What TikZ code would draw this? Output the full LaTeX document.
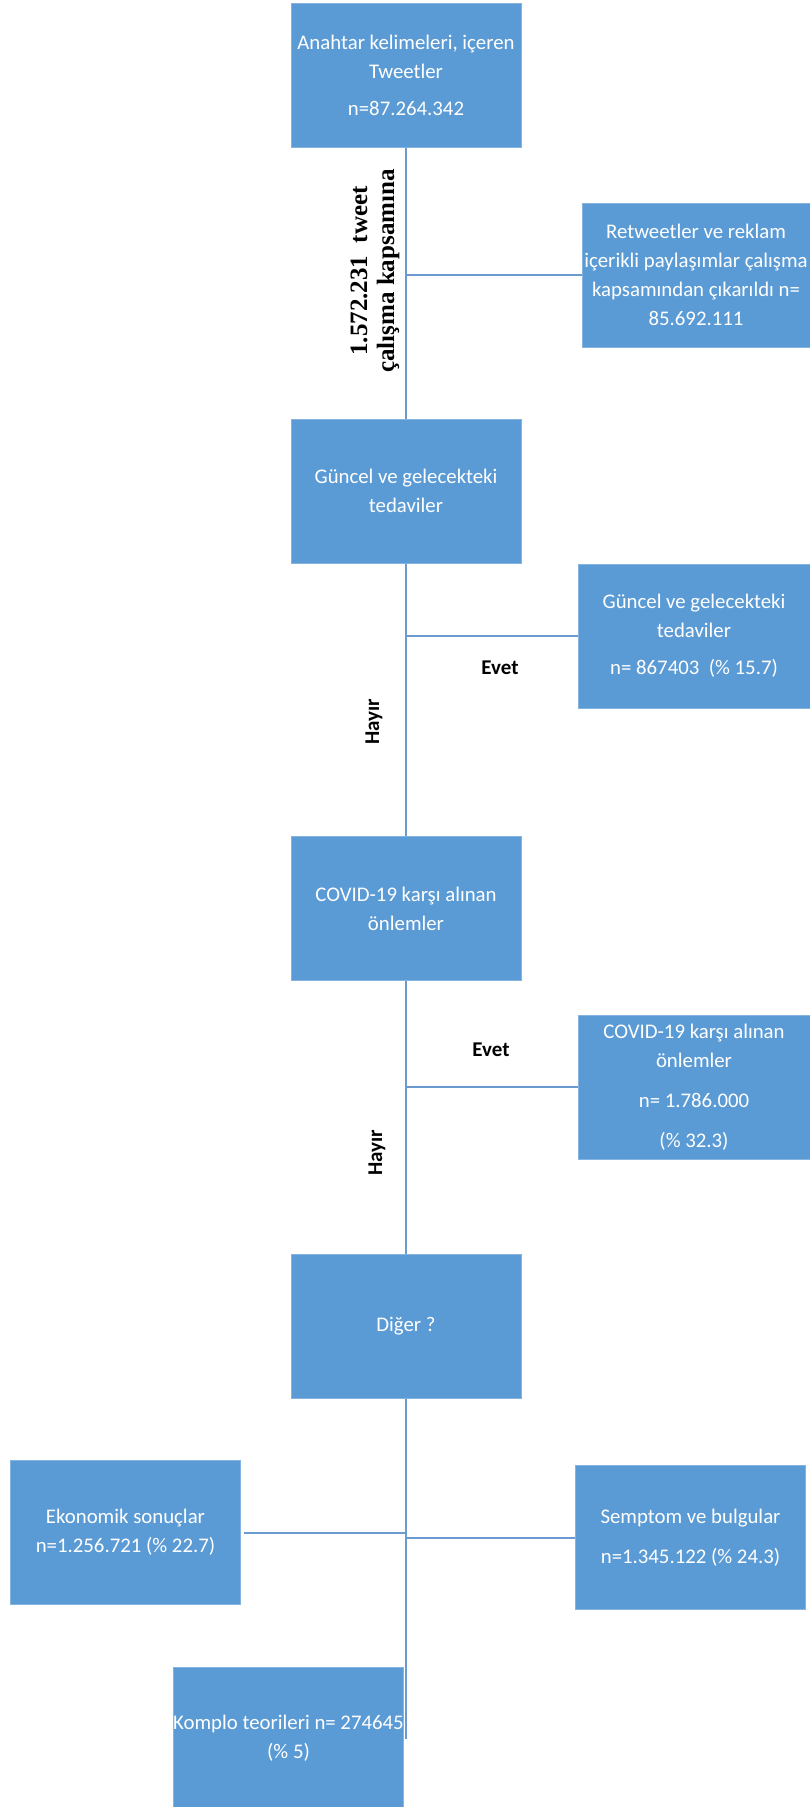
\documentclass[tikz,border=0pt]{standalone}
\usepackage{fontspec}
\setmainfont{Carlito}
\newfontfamily\timesfont{Liberation Serif}
\usepackage{tikz}

\definecolor{boxblue}{HTML}{5B9BD5}
\definecolor{lineblue}{HTML}{6A9BD0}

\begin{document}
\begin{tikzpicture}[x=1pt,y=-1pt,
    box/.style={fill=boxblue,draw=boxblue!75!white,line width=1pt,
      minimum width=230pt,minimum height=144pt,inner sep=0pt,
      text=white,align=center,font=\fontsize{20.8}{29}\selectfont},
    link/.style={lineblue,line width=2pt},
    yesno/.style={font=\fontsize{21}{25}\selectfont\bfseries}]
\useasboundingbox (0,0) rectangle (810,1807);
\node[box] (tweets) at (406,75.5) {Anahtar kelimeleri, içeren\\Tweetler\\[8pt]n=87.264.342};
\node[box,minimum width=228pt] (retweet) at (696,275)
    {Retweetler ve reklam\\içerikli paylaşımlar çalışma\\kapsamından çıkarıldı n=\\85.692.111};
\node[box] (tedavi) at (406,491) {Güncel ve gelecekteki\\tedaviler};
\node[box,minimum width=232pt] (tedaviN) at (694,636)
    {Güncel ve gelecekteki\\tedaviler\\[8pt]n= 867403~~(\% 15.7)};
\node[box] (onlem) at (406,908.5) {COVID-19 karşı alınan\\önlemler};
\node[box,minimum width=232pt] (onlemN) at (694,1087)
    {COVID-19 karşı alınan\\önlemler\\[11pt]n= 1.786.000\\[11pt](\% 32.3)};
\node[box] (diger) at (406,1326) {Diğer ?};
\node[box] (ekonomi) at (125.5,1532.5) {Ekonomik sonuçlar\\n=1.256.721 (\% 22.7)};
\node[box] (semptom) at (690.5,1537.5) {Semptom ve bulgular\\[11pt]n=1.345.122 (\% 24.3)};
\node[box,minimum height=142pt] (komplo) at (288.5,1738) {Komplo teorileri n= 274645\\(\% 5)};
\coordinate (tail) at (406,1739);

\node[rotate=90,align=center,font=\timesfont\fontsize{25}{27}\selectfont\bfseries] (kapsam) at (375,271)
    {1.572.231\ \ tweet\\çalışma kapsamına};
\node[yesno] (evet1) at (500,668) {Evet};
\node[yesno,rotate=90] (hayir1) at (374,722) {Hayır};
\node[yesno] (evet2) at (491,1050) {Evet};
\node[yesno,rotate=90] (hayir2) at (377,1153) {Hayır};

\draw[link] (tweets.south) -- (tedavi.north);
\draw[link] (tedavi.south) -- (onlem.north);
\draw[link] (onlem.south) -- (diger.north);
\draw[link] (diger.south) -- (tail);
\draw[link] (retweet.west) -- (retweet.west -| tweets.south);
\draw[link] (tedaviN.west) -- (tedaviN.west -| tedavi.south);
\draw[link] (onlemN.west) -- (onlemN.west -| onlem.south);
\draw[link] (ekonomi.east) ++(3,0) -- (ekonomi.east -| diger.south);
\draw[link] (semptom.west) -- (semptom.west -| diger.south);
\end{tikzpicture}
\end{document}
